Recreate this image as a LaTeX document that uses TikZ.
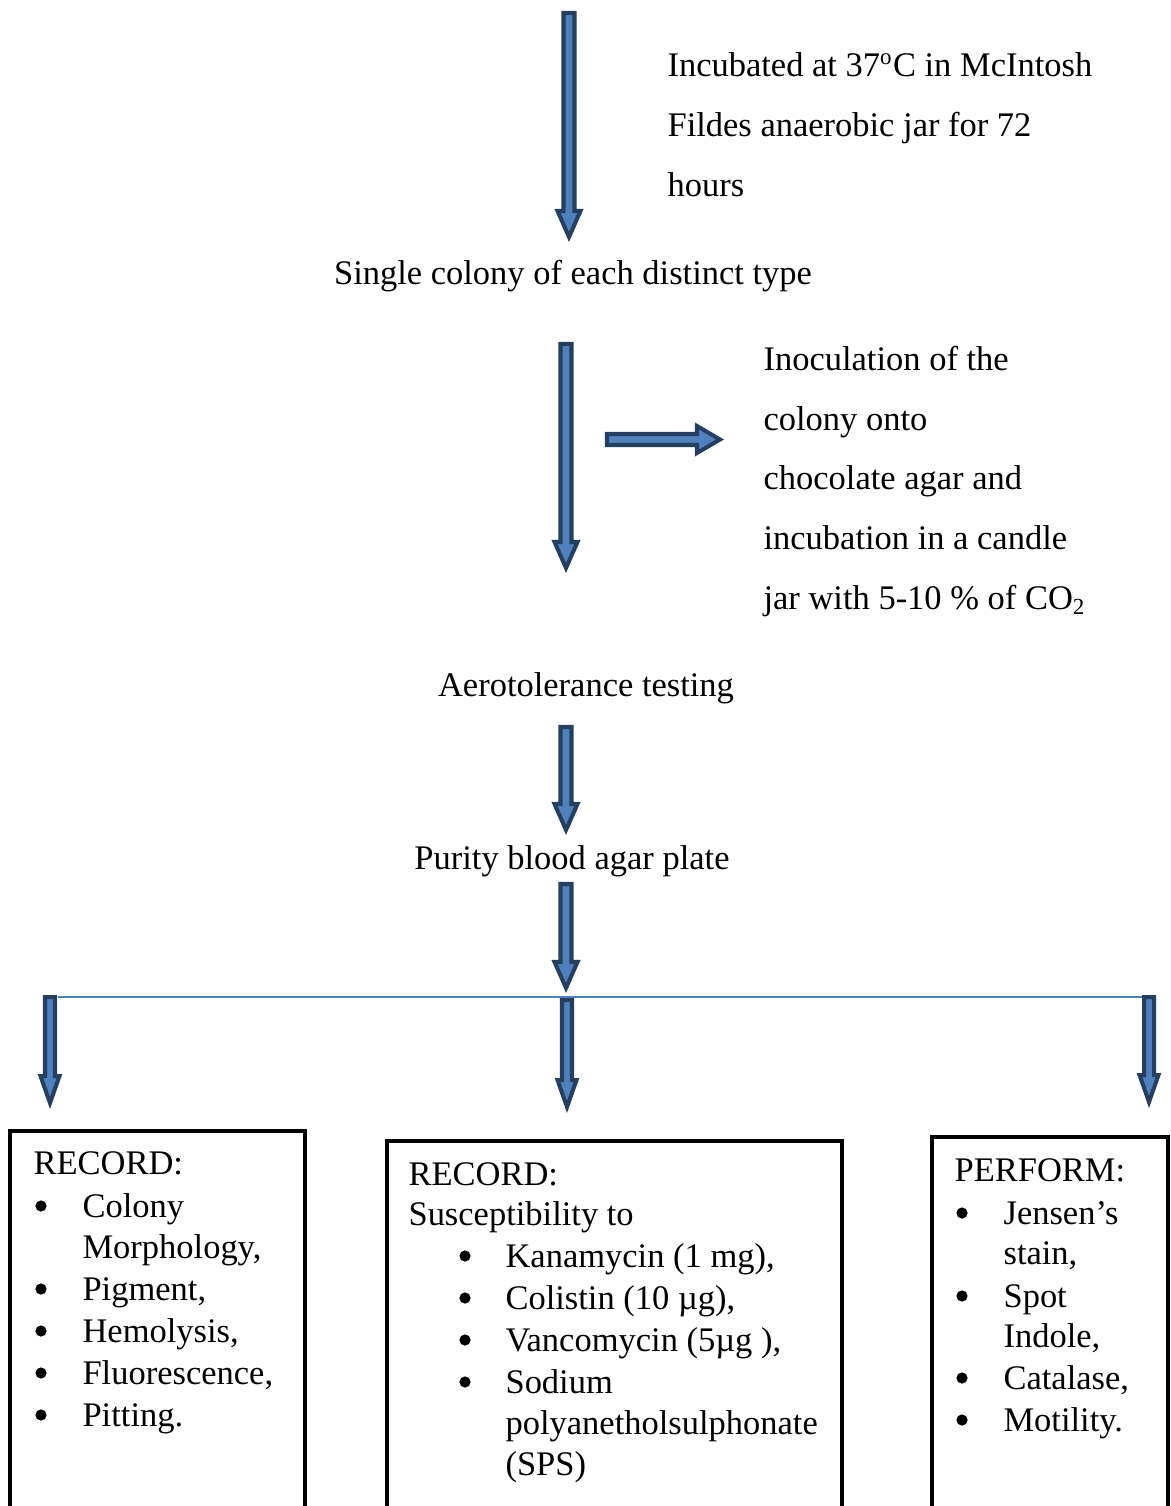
\documentclass[tikz,border=0pt]{standalone}
\usepackage{fontspec}
\setmainfont{Liberation Serif}
\definecolor{arrdark}{HTML}{243F60}
\definecolor{arrlight}{HTML}{4F81BD}
\tikzset{
  blockarrow/.style={draw=arrdark, fill=arrlight, line width=1.4pt, line join=miter},
  txt/.style={anchor=base west, inner sep=0pt, font=\fontsize{12pt}{14.6pt}\selectfont},
  ctxt/.style={anchor=base, inner sep=0pt, font=\fontsize{12pt}{14.6pt}\selectfont},
  boxframe/.style={draw=black, line width=1.45pt},
  connline/.style={draw=arrlight, line width=0.7pt},
  bulletdot/.style={circle, fill=black, inner sep=0pt, minimum size=3.9pt}
}
% down arrow: x, top y, tip y, shaft half, head half, head length
\newcommand{\downarrowblk}[6]{%
  \path[blockarrow] (#1-#4,#2) -- (#1+#4,#2) -- (#1+#4,#3-#6) -- (#1+#5,#3-#6) -- (#1,#3) -- (#1-#5,#3-#6) -- (#1-#4,#3-#6) -- cycle;}
\begin{document}
\begin{tikzpicture}[x=0.348pt,y=-0.348pt]
\useasboundingbox (0,0) rectangle (1171,1506);
\clip (0,0) rectangle (1171,1506);
% texts
\node[txt] (t1a) at (667,77) {Incubated at 37\textsuperscript{o}C in McIntosh};
\node[txt] (t1b) at (667,137) {Fildes anaerobic jar for 72};
\node[txt] (t1c) at (667,197) {hours};
\node[ctxt] (single) at (573,284) {Single colony of each distinct type};
\node[txt] (t2a) at (763,370) {Inoculation of the};
\node[txt] (t2b) at (763,430) {colony onto};
\node[txt] (t2c) at (763,489) {chocolate agar and};
\node[txt] (t2d) at (763,549) {incubation in a candle};
\node[txt] (t2e) at (763,609) {jar with 5-10 \% of CO\textsubscript{2}};
\node[ctxt] (aero) at (586,696) {Aerotolerance testing};
\node[ctxt] (purity) at (572,869) {Purity blood agar plate};
% arrows
\downarrowblk{569}{13}{237}{5.5}{11.5}{26}
\downarrowblk{566}{344}{568}{5.5}{11.5}{26}
\path[blockarrow] (607,434) -- (697,434) -- (697,426) -- (720,439.5) -- (697,453) -- (697,445) -- (607,445) -- cycle;
\downarrowblk{566}{727}{830}{5.5}{11.5}{26}
\downarrowblk{566}{884}{988}{5.5}{11.5}{26}
% distribution line
\coordinate (hl) at (58,997);
\coordinate (hr) at (1142,997);
\draw[connline] (hl) -- (hr);
\downarrowblk{50}{997}{1103}{5}{9.5}{27}
\downarrowblk{567}{1000}{1107}{5}{9.5}{27}
\downarrowblk{1149}{997}{1102}{5}{9.5}{27}
% boxes
\draw[boxframe] (10,1530) -- (10,1131) -- (305,1131) -- (305,1530);
\draw[boxframe] (387,1530) -- (387,1141) -- (842,1141) -- (842,1530);
\draw[boxframe] (932,1530) -- (932,1137) -- (1168,1137) -- (1168,1530);
% box 1
\node[txt] (b1h) at (33,1174) {RECORD:};
\foreach \yy/\tt/\bb [count=\i] in {1217/Colony/1, 1258/{Morphology,}/0, 1300/{Pigment,}/1, 1342/{Hemolysis,}/1, 1384/{Fluorescence,}/1, 1426/{Pitting.}/1}{
  \node[txt] (b1l\i) at (82,\yy) {\tt};
  \ifnum\bb=1 \node[bulletdot] (b1d\i) at (41,\yy-11) {};\fi
}
% box 2
\node[txt] (b2h) at (408,1185) {RECORD:};
\node[txt] (b2s) at (408,1225) {Susceptibility to};
\foreach \yy/\tt/\bb [count=\i] in {1267/{Kanamycin (1 mg),}/1, 1309/{Colistin (10 µg),}/1, 1351/{Vancomycin (5µg ),}/1, 1393/Sodium/1, 1434/polyanetholsulphonate/0, 1475/(SPS)/0}{
  \node[txt] (b2l\i) at (505,\yy) {\tt};
  \ifnum\bb=1 \node[bulletdot] (b2d\i) at (465,\yy-11) {};\fi
}
% box 3
\node[txt] (b3h) at (954,1181) {PERFORM:};
\foreach \yy/\tt/\bb [count=\i] in {1224/{Jensen’s}/1, 1264/{stain,}/0, 1307/Spot/1, 1347/{Indole,}/0, 1389/{Catalase,}/1, 1431/{Motility.}/1}{
  \node[txt] (b3l\i) at (1003,\yy) {\tt};
  \ifnum\bb=1 \node[bulletdot] (b3d\i) at (962,\yy-11) {};\fi
}
\end{tikzpicture}
\end{document}
